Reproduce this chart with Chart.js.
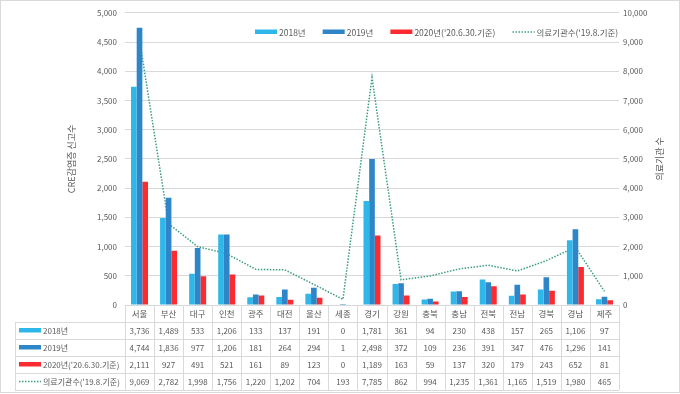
<!DOCTYPE html>
<html>
<head>
<meta charset="utf-8">
<script src="https://cdn.jsdelivr.net/npm/chart.js@4/dist/chart.umd.min.js"></script>
<style>
  html, body { margin: 0; padding: 0; background: #fff; }
  #chart { display: block; }
</style>
</head>
<body>
<canvas id="chart" width="680" height="394"></canvas>
<script>
// --- data ---
const categories = ['서울','부산','대구','인천','광주','대전','울산','세종','경기','강원','충북','충남','전북','전남','경북','경남','제주'];
const reports2018 = [3736,1489,533,1206,133,137,191,0,1781,361,94,230,438,157,265,1106,97];
const reports2019 = [4744,1836,977,1206,181,264,294,1,2498,372,109,236,391,347,476,1296,141];
const reports2020 = [2111,927,491,521,161,89,123,0,1189,163,59,137,320,179,243,652,81];
const hospitals = [9069,2782,1998,1756,1220,1202,704,193,7785,862,994,1235,1361,1165,1519,1980,465];
const seriesLabels = ['2018년', '2019년', "2020년('20.6.30.기준)", "의료기관수('19.8.기준)"];
const leftTicks = { min: 0, max: 5000, step: 500 };
const rightTicks = { min: 0, max: 10000, step: 1000 };

const FONT = "'Noto Sans CJK KR', 'Noto Sans', sans-serif";
const TXT = '#595959';
const GRID = '#d9d9d9';
const fmt = v => v.toLocaleString('en-US');

// legend + data table + frame, drawn under the plot
const tablePlugin = {
  id: 'dataTable',
  afterDraw(chart){
    const ctx = chart.ctx;
    const area = chart.chartArea;
    const xs = chart.scales.x;
    const sets = chart.data.datasets;
    const catW = (area.right - area.left) / categories.length;
    const rowH = 17;
    const top = area.bottom;
    const tblLeft = 15;
    const bottom = top + rowH * (sets.length + 1);
    ctx.save();

    // outer frame
    ctx.strokeStyle = GRID;
    ctx.lineWidth = 1;
    ctx.strokeRect(0.5, 0.5, 679, 392);

    // grid lines of the table
    ctx.beginPath();
    ctx.moveTo(area.left, top + 0.5); ctx.lineTo(area.right, top + 0.5);
    for(let r = 1; r <= sets.length + 1; r++){
      const y = Math.round(top + r * rowH) + 0.5;
      ctx.moveTo(tblLeft, y); ctx.lineTo(area.right, y);
    }
    for(let i = 0; i <= categories.length; i++){
      const x = Math.round(area.left + i * catW) + 0.5;
      ctx.moveTo(x, top); ctx.lineTo(x, bottom);
    }
    ctx.moveTo(tblLeft + 0.5, top + rowH); ctx.lineTo(tblLeft + 0.5, bottom);
    ctx.stroke();

    // header (category names) and values
    ctx.fillStyle = TXT;
    ctx.textAlign = 'center';
    ctx.textBaseline = 'middle';
    ctx.font = '8.5px ' + FONT;
    categories.forEach((c, i) => ctx.fillText(c, xs.getPixelForValue(i), top + rowH / 2 + 0.5));
    ctx.font = '8px ' + FONT;
    sets.forEach((ds, r) => {
      const cy = top + rowH * (r + 1) + rowH / 2 + 0.5;
      ds.data.forEach((v, i) => ctx.fillText(fmt(v), xs.getPixelForValue(i), cy));
    });

    // row labels with series glyphs
    ctx.textAlign = 'left';
    sets.forEach((ds, r) => {
      const cy = top + rowH * (r + 1) + rowH / 2;
      drawGlyph(ctx, ds, 19, cy, 22);
      ctx.fillStyle = TXT;
      ctx.font = '8px ' + FONT;
      ctx.fillText(ds.label, 43, cy + 0.5);
    });

    // legend inside plot
    let lx = 255;
    const ly = 32;
    ctx.font = '8.5px ' + FONT;
    sets.forEach(ds => {
      drawGlyph(ctx, ds, lx, ly, 22);
      ctx.fillStyle = TXT;
      ctx.fillText(ds.label, lx + 24, ly + 0.5);
      lx += 24 + ctx.measureText(ds.label).width + 17;
    });

    // secondary axis title
    const y2 = chart.scales.y2;
    ctx.translate(660, (y2.top + y2.bottom) / 2);
    ctx.rotate(-Math.PI / 2);
    ctx.textAlign = 'center';
    ctx.font = '9px ' + FONT;
    ctx.fillText('의료기관 수', 0, 0);
    ctx.restore();
  }
};

function drawGlyph(ctx, ds, x, cy, w){
  if(ds.type === 'line'){
    ctx.save();
    ctx.strokeStyle = ds.borderColor;
    ctx.lineWidth = 1.5;
    ctx.setLineDash([1.5, 1.5]);
    ctx.beginPath();
    ctx.moveTo(x, cy); ctx.lineTo(x + w, cy);
    ctx.stroke();
    ctx.restore();
  } else {
    ctx.fillStyle = ds.backgroundColor;
    ctx.fillRect(x, cy - 2.5, w, 4.5);
  }
}

const chart = new Chart(document.getElementById('chart'), {
  type: 'bar',
  data: {
    labels: categories,
    datasets: [
      { label: seriesLabels[0], data: reports2018, backgroundColor: '#2fb7e9', yAxisID: 'y', order: 1 },
      { label: seriesLabels[1], data: reports2019, backgroundColor: '#2e86c9', yAxisID: 'y', order: 1 },
      { label: seriesLabels[2], data: reports2020, backgroundColor: '#fb2b2f', yAxisID: 'y', order: 1 },
      { type: 'line', label: seriesLabels[3], data: hospitals, yAxisID: 'y2', order: 2,
        borderColor: '#3a9c84', borderWidth: 1.5, borderDash: [1.5, 1.5], pointRadius: 0, fill: false, tension: 0 }
    ]
  },
  options: {
    responsive: false,
    animation: false,
    devicePixelRatio: 1,
    layout: { padding: { left: 60, right: 12, top: 10, bottom: 89 } },
    datasets: { bar: { categoryPercentage: 0.585, barPercentage: 1 } },
    plugins: { legend: { display: false }, tooltip: { enabled: false } },
    scales: {
      x: { display: false, offset: true },
      y: {
        position: 'left', min: leftTicks.min, max: leftTicks.max,
        ticks: { stepSize: leftTicks.step, callback: fmt, color: TXT, font: { family: FONT, size: 8 }, padding: 8 },
        grid: { color: GRID, drawTicks: false },
        border: { display: false },
        title: { display: true, text: 'CRE감염증 신고수', color: TXT, font: { family: FONT, size: 9 }, padding: { top: 6, bottom: 0 } },
        afterFit(s){ s.width = 65; }
      },
      y2: {
        position: 'right', min: rightTicks.min, max: rightTicks.max,
        ticks: { stepSize: rightTicks.step, callback: fmt, color: TXT, font: { family: FONT, size: 8 }, padding: 4 },
        grid: { display: false, drawTicks: false },
        border: { display: false },
        afterFit(s){ s.width = 49; }
      }
    }
  },
  plugins: [tablePlugin]
});
</script>
</body>
</html>
